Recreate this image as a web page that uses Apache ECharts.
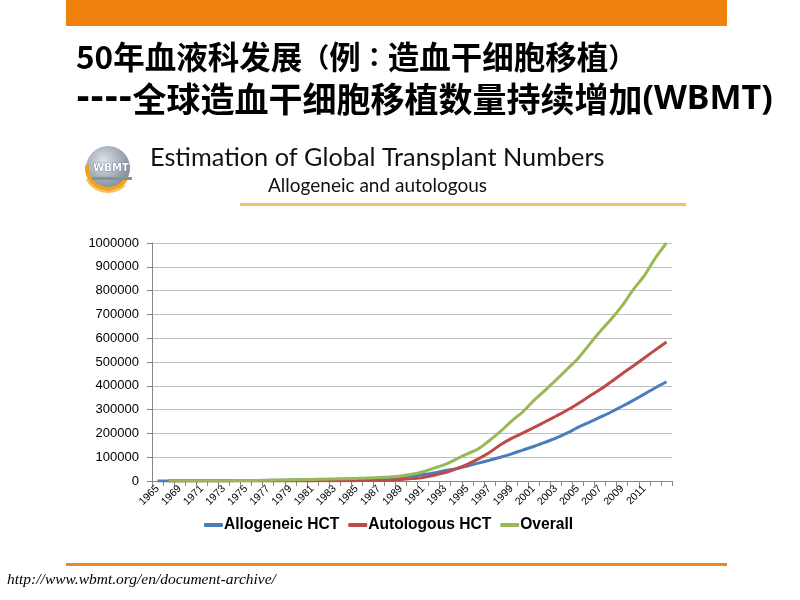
<!DOCTYPE html>
<html>
<head>
<meta charset="utf-8">
<script src="https://cdn.jsdelivr.net/npm/echarts@6/dist/echarts.min.js"></script>
<style>
html,body{margin:0;padding:0;background:#fff;}
#main{width:800px;height:600px;}
</style>
</head>
<body>
<div id="main"></div>
<script>
// ---- data ----
var years = ['1965'];
(function(){ for (var y = 1968; y <= 2013; y++) years.push(String(y)); })();

var allogeneic = [100,
  300, 500, 700, 900, 1100, 1400, 1700, 2000, 2400, 2800,
  3300, 3800, 4400, 5000, 5700, 6500, 7400, 8400, 9500, 11000,
  13000, 17000, 21000, 27000, 34000, 44000, 52000, 63000, 75000, 87000,
  100000, 114000, 130000, 145000, 162000, 180000, 201000, 225000, 246000, 268000,
  290000, 314000, 339000, 365000, 392000, 417000];

var autologous = [null,
  0, 0, 0, 0, 0, 0, 0, 0, 0, 100,
  200, 300, 400, 500, 700, 900, 1200, 1500, 1900, 2400,
  3000, 6000, 10000, 15000, 24000, 35000, 51000, 70000, 93000, 120000,
  152000, 179000, 201000, 224000, 248000, 272000, 297000, 325000, 355000, 384000,
  417000, 451000, 483000, 517000, 551000, 584000];

var overall = [null,
  300, 500, 700, 900, 1100, 1400, 1700, 2000, 2500, 3200,
  4000, 4800, 5600, 6500, 7500, 8500, 9800, 11000, 12500, 15000,
  17000, 21000, 28000, 39000, 54000, 70000, 92000, 114000, 135000, 170000,
  208000, 252000, 290000, 338000, 380000, 424000, 469000, 515000, 572000, 628000,
  680000, 737000, 804000, 863000, 937000, 1000000];

var seriesNames = ['Allogeneic HCT', 'Autologous HCT', 'Overall'];
var chartTitle = 'Estimation of Global Transplant Numbers';
var chartSubtitle = 'Allogeneic and autologous';
var sourceUrl = 'http://www.wbmt.org/en/document-archive/';

// ---- chart ----
var chart = echarts.init(document.getElementById('main'), null, {renderer: 'canvas'});
var cjk = '"Noto Sans CJK SC", sans-serif';

function lineSeries(name, data, color) {
  return {
    name: name, type: 'line', data: data, smooth: 0.3,
    showSymbol: false, symbol: 'none', connectNulls: false,
    lineStyle: {color: color, width: 3},
    itemStyle: {color: color},
    emphasis: {disabled: true},
    animation: false
  };
}

var option = {
  backgroundColor: '#ffffff',
  animation: false,
  title: [
    {text: '{n|50年血液科发展}{p|（}{n|例}{p|：}{n|造血干细胞移植}{p|）}', left: 71, top: 36,
     textStyle: {fontFamily: cjk, fontWeight: 'bold', fontSize: 31.5, color: '#000',
       rich: {n: {fontFamily: cjk, fontWeight: 'bold', fontSize: 31.5, color: '#000'},
              p: {fontFamily: '"Noto Sans CJK KR", sans-serif', fontWeight: 'bold', fontSize: 27, color: '#000'}}}},
    {text: '{d|----}{n|全球造血干细胞移植数量持续增加}{w|(WBMT)}', left: 71, top: 77,
     textStyle: {fontFamily: cjk, fontWeight: 'bold', fontSize: 34, color: '#000',
       rich: {d: {fontFamily: '"DejaVu Sans", sans-serif', fontWeight: 'bold', fontSize: 34, color: '#000'},
              n: {fontFamily: cjk, fontWeight: 'bold', fontSize: 34, color: '#000'},
              w: {fontFamily: '"Noto Sans", sans-serif', fontWeight: 'bold', fontSize: 34, color: '#000'}}}},
    {text: chartTitle, left: 145, top: 140,
     textStyle: {fontFamily: 'Lato', fontWeight: 'normal', fontSize: 25.3, color: '#111'}},
    {text: chartSubtitle, left: 263, top: 171,
     textStyle: {fontFamily: 'Lato', fontWeight: 'normal', fontSize: 19, color: '#111'}}
  ],
  graphic: [
    {type: 'rect', shape: {x: 66, y: 0, width: 661, height: 26}, style: {fill: '#EF820F'}, silent: true},
    {type: 'rect', shape: {x: 240, y: 203, width: 446, height: 3}, style: {fill: '#F6C166'}, silent: true},
    {type: 'rect', shape: {x: 66, y: 563, width: 661, height: 3}, style: {fill: '#E8862A'}, silent: true},
    {type: 'text', left: 7, top: 572,
     style: {text: sourceUrl, font: 'italic 15.5px "Liberation Serif", serif', fill: '#000'}},
    // logo
    {type: 'circle', shape: {cx: 108, cy: 168, r: 22},
     style: {fill: new echarts.graphic.RadialGradient(0.4, 0.35, 0.8, [
       {offset: 0, color: '#dfe4ea'}, {offset: 0.6, color: '#98a3b0'}, {offset: 1, color: '#6e7b8a'}])}, silent: true},
    {type: 'arc', shape: {cx: 108, cy: 168, r: 21, startAngle: Math.PI * 0.15, endAngle: Math.PI * 1.05},
     style: {stroke: '#F2A31B', lineWidth: 4, fill: null}, silent: true},
    {type: 'arc', shape: {cx: 108, cy: 168, r: 24, startAngle: Math.PI * 0.25, endAngle: Math.PI * 0.85},
     style: {stroke: '#F7C25A', lineWidth: 2, fill: null}, silent: true},
    {type: 'text', left: 93, top: 163,
     style: {text: 'WBMT', font: 'bold 10px "DejaVu Sans", sans-serif', fill: '#ffffff', stroke: '#4a5c73', lineWidth: 0.6}},
    {type: 'rect', shape: {x: 92, y: 177, width: 40, height: 3}, style: {fill: '#8a8f96'}, silent: true}
  ],
  legend: {
    data: seriesNames,
    bottom: 62,
    left: 199,
    icon: 'roundRect',
    itemWidth: 19, itemHeight: 4, itemGap: 9,
    textStyle: {fontFamily: '"Liberation Sans", Arial, sans-serif', fontWeight: 'bold', fontSize: 15.6, color: '#000', padding: [0, 0, 0, -4]},
    selectedMode: false
  },
  grid: {left: 152, right: 128, top: 243, bottom: 119, containLabel: false},
  xAxis: {
    type: 'category', data: years, boundaryGap: true,
    axisLine: {lineStyle: {color: '#868686', width: 1}},
    axisTick: {show: true, interval: 0, length: 5, lineStyle: {color: '#868686'}},
    axisLabel: {
      interval: function (idx) { return idx % 2 === 0 && idx < years.length - 1; },
      rotate: 45, fontSize: 10.5, color: '#000', margin: 6,
      fontFamily: '"Liberation Sans", Arial, sans-serif'},
    splitLine: {show: false}
  },
  yAxis: {
    type: 'value', min: 0, max: 1000000, interval: 100000,
    axisLine: {show: true, lineStyle: {color: '#868686', width: 1}},
    axisTick: {show: true, length: 5, lineStyle: {color: '#868686'}},
    axisLabel: {fontSize: 13, color: '#000', margin: 13,
      formatter: function (v) { return String(v); },
      fontFamily: '"Liberation Sans", Arial, sans-serif'},
    splitLine: {show: true, lineStyle: {color: '#BEBEBE', width: 1}}
  },
  series: [
    lineSeries(seriesNames[0], allogeneic, '#4A7EBB'),
    lineSeries(seriesNames[1], autologous, '#BE4B48'),
    lineSeries(seriesNames[2], overall, '#98B954')
  ]
};
chart.setOption(option);
</script>
</body>
</html>
